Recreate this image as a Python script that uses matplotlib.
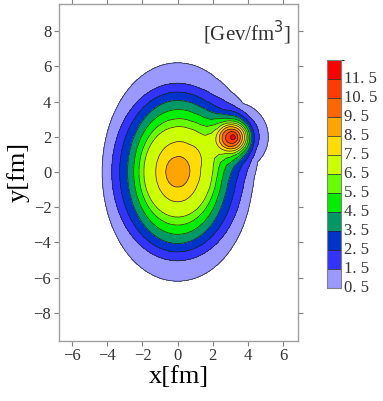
import matplotlib
matplotlib.use("Agg")
import matplotlib.pyplot as plt
import numpy as np
from matplotlib.colors import ListedColormap, BoundaryNorm

# contour levels and band colours
levels = [0.5, 1.5, 2.5, 3.5, 4.5, 5.5, 6.5, 7.5, 8.5, 9.5, 10.5, 11.5, 12.5]
band_colors = ["#9999ff", "#3333ff", "#0033cc", "#009966", "#00ee00", "#66ff00",
               "#ccff00", "#ffdd00", "#ffa500", "#ff6600", "#ff3c00", "#ff0000"]
cbar_ticks = [0.5, 1.5, 2.5, 3.5, 4.5, 5.5, 6.5, 7.5, 8.5, 9.5, 10.5, 11.5]

# main fireball: half-axes [fm] of each contour
main_level = [0.0, 0.5, 1.5, 2.5, 3.5, 4.5, 5.5, 6.5, 7.5, 8.5, 9.2]
main_semi_x = [4.6, 4.3, 3.75, 3.3, 2.85, 2.5, 2.2, 1.93, 1.25, 0.68, 0.0]
main_semi_y = [6.8, 6.22, 5.05, 4.55, 4.07, 3.55, 3.02, 2.57, 1.7, 0.87, 0.0]

# hot spot on top of the fireball: centre, radial profile (distance [fm], extra density)
hot_x, hot_y = 3.2, 2.0
hot_r = [0.0, 0.12, 0.35, 0.62, 0.85, 1.05, 1.3, 1.65, 2.0, 2.6, 3.5]
hot_v = [10.1, 9.5, 8.3, 6.5, 4.5, 3.0, 1.9, 0.9, 0.45, 0.12, 0.0]

xs = np.linspace(-7, 7, 421)
ys = np.linspace(-10, 10, 601)
X, Y = np.meshgrid(xs, ys)

E = np.zeros_like(X)
for L in np.arange(0.01, main_level[-1], 0.02):
    a = np.interp(L, main_level, main_semi_x)
    b = np.interp(L, main_level, main_semi_y)
    E[(X / a) ** 2 + (Y / b) ** 2 <= 1] = L

d = np.sqrt((X - hot_x) ** 2 + (Y - hot_y) ** 2)
E += np.interp(d, hot_r, hot_v)

plt.rcParams['font.family'] = ['Liberation Serif', 'DejaVu Serif']

fig = plt.figure(figsize=(3.83, 4.01), dpi=100)
ax = fig.add_axes([0.154, 0.150, 0.624, 0.840])
cax = fig.add_axes([0.854, 0.282, 0.037, 0.568])

cmap = ListedColormap(band_colors)
norm = BoundaryNorm(levels, cmap.N)
cf = ax.contourf(X, Y, E, levels=levels, cmap=cmap, norm=norm)
cl = ax.contour(X, Y, E, levels=levels, colors="#222222", linewidths=0.5)

ax.set_xlim(-6.75, 6.85)
ax.set_ylim(-9.6, 9.55)
ax.set_xticks([-6, -4, -2, 0, 2, 4, 6])
ax.set_yticks([-8, -6, -4, -2, 0, 2, 4, 6, 8])
ax.set_xticklabels(["\u22126", "\u22124", "\u22122", "0", "2", "4", "6"])
ax.set_yticklabels(["\u22128", "\u22126", "\u22124", "\u22122", "0", "2", "4", "6", "8"])
ax.tick_params(direction="out", length=3.5, width=0.8, color="#808080",
               labelsize=12, top=True, right=True, labelcolor="#333333", pad=2)
for s in ax.spines.values():
    s.set_color("#a0a0a0")
    s.set_linewidth(1.0)
ax.set_xlabel("x[fm]", fontsize=19, labelpad=1)
ax.set_ylabel("y[fm]", fontsize=19, labelpad=3)
ax.text(0.97, 0.955, "[Gev/fm$^3$]", transform=ax.transAxes, ha="right", va="top",
        fontsize=15, color="#333333")

cb = fig.colorbar(cf, cax=cax, ticks=cbar_ticks)
cb.add_lines(cl)
cb.ax.tick_params(length=0, labelsize=12, pad=2, labelcolor="#333333")
cb.outline.set_edgecolor("#808080")
cb.ax.set_yticklabels([f"{t:g}".replace(".", ". ") for t in cbar_ticks], va="center")

fig.savefig("out.png", dpi=100)
